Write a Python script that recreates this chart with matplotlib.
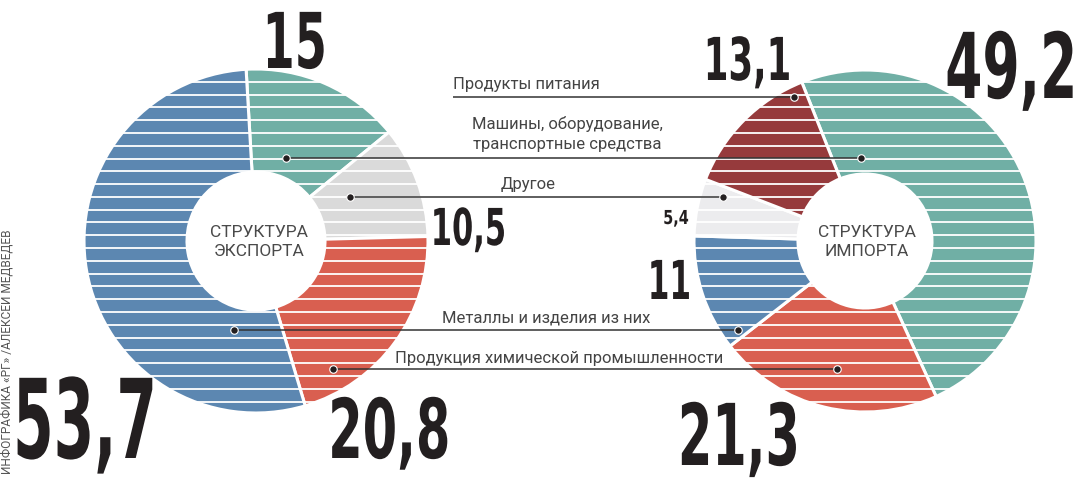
import matplotlib
matplotlib.use("Agg")
import matplotlib.pyplot as plt
from matplotlib import font_manager
from matplotlib.patches import Circle
from matplotlib.patheffects import AbstractPathEffect
from matplotlib.transforms import Affine2D
import numpy as np


# Данные (доли, %)

categorias = ["Продукты питания",
              "Машины, оборудование,\nтранспортные средства",
              "Другое",
              "Металлы и изделия из них",
              "Продукция химической промышленности"]

# экспорт: порядок секторов по часовой стрелке
export_cats = [1, 2, 4, 3]
export_vals = [15, 10.5, 20.8, 53.7]

# импорт: порядок секторов по часовой стрелке
import_cats = [1, 4, 3, 2, 0]
import_vals = [49.2, 21.3, 11, 5.4, 13.1]

colores_export = {1: "#70AFA5", 2: "#DADADA", 4: "#D95F50", 3: "#5C87B1"}
colores_import = {1: "#70AFA5", 4: "#D95F50", 3: "#5C87B1", 2: "#ECECEE", 0: "#963A3C"}

W, H = 1081, 482


def Y(y):
    # координаты считаем сверху вниз, как на картинке
    return H - y


class Estrecho(AbstractPathEffect):
    # сжимает текст по горизонтали (узкий шрифт для больших цифр)
    def __init__(self, sx):
        super().__init__()
        self.sx = sx

    def draw_path(self, renderer, gc, tpath, affine, rgbFace=None):
        ext = tpath.get_extents(affine)
        xm = (ext.x0 + ext.x1) / 2
        aff = affine + Affine2D().translate(-xm, 0).scale(self.sx, 1).translate(xm, 0)
        renderer.draw_path(gc, tpath, aff, rgbFace)


nombres = {f.name for f in font_manager.fontManager.ttflist}
fuente_txt = "Roboto" if "Roboto" in nombres else "DejaVu Sans"
NEGRO = "#231F20"
GRIS = "#444444"

fig = plt.figure(figsize=(W / 100, H / 100), dpi=100)
ax = fig.add_axes([0, 0, 1, 1])

# (центр x, центр y, R, r, угол старта)
pies = [
    (export_vals, export_cats, colores_export, 256, 241, 172, 69, 93.3),
    (import_vals, import_cats, colores_import, 865, 241, 171, 67, 111.7),
]

for vals, cats, cols, cx, cy, R, r, ang in pies:
    ax.pie(vals, colors=[cols[c] for c in cats], startangle=ang, counterclock=False,
           center=(cx, Y(cy)), radius=R,
           wedgeprops=dict(width=R - r, edgecolor="white", linewidth=2.2))
    # белые горизонтальные полосы
    borde = Circle((cx, Y(cy)), R, transform=ax.transData)
    ys = [Y(v) for v in np.arange(81.7, cy + R, 12.8)]
    lineas = ax.hlines(ys, cx - R, cx + R, colors="white", linewidth=1.3, zorder=3)
    lineas.set_clip_path(borde)

# подписи в центре
ax.text(259, Y(242), "СТРУКТУРА\nЭКСПОРТА", ha="center", va="center", fontsize=12.5,
        color="#4a4a4a", family=fuente_txt, linespacing=1.35, zorder=6)
ax.text(867, Y(242), "СТРУКТУРА\nИМПОРТА", ha="center", va="center", fontsize=12.5,
        color="#4a4a4a", family=fuente_txt, linespacing=1.35, zorder=6)

# выноски: (y линии, x начала, x конца, точки)
lineas_cat = [
    (97, 453, 794, [794]),
    (158, 286, 861, [286, 861]),
    (197, 350, 723, [350, 723]),
    (330, 234, 738, [234, 738]),
    (369, 333, 837, [333, 837]),
]
textos_cat = [
    (453, 84, "left"),
    (567, 134, "center"),
    (528, 185, "center"),
    (546, 318, "center"),
    (559, 358, "center"),
]

for (yl, x0, x1, puntos), (tx, ty, ha), nombre in zip(lineas_cat, textos_cat, categorias):
    ax.plot([x0, x1], [Y(yl), Y(yl)], color="#333333", lw=1.1, zorder=4, solid_capstyle="butt")
    ax.plot(puntos, [Y(yl)] * len(puntos), "o", color=NEGRO, ms=5.4, mec="white", mew=0.8, zorder=5)
    ax.text(tx, Y(ty), nombre, ha=ha, va="center", fontsize=12, color=GRIS,
            family=fuente_txt, linespacing=1.35, zorder=6)

# большие числа: (x центра, базовая линия, высота цифр в px, сжатие)
pos_export = [(294, 68, 56, 0.6), (468, 245, 37, 0.6), (389, 458, 60, 0.6), (85, 458, 80, 0.53)]
pos_import = [(1012, 98, 66, 0.59), (739, 465, 62, 0.58), (669, 299, 39, 0.58),
              (676, 224, 14, 0.75), (747, 80, 43, 0.6)]

for vals, posiciones in [(export_vals, pos_export), (import_vals, pos_import)]:
    for v, (x, yb, alto, sx) in zip(vals, posiciones):
        ax.text(x, Y(yb), f"{v:g}".replace(".", ","), ha="center", va="baseline",
                fontsize=alto * 0.99, fontweight="bold", color=NEGRO, family="DejaVu Sans",
                zorder=6, path_effects=[Estrecho(sx)])

# подпись автора
ax.text(8, Y(352), "ИНФОГРАФИКА «РГ» /АЛЕКСЕЙ МЕДВЕДЕВ", rotation=90, ha="center", va="center",
        fontsize=8.6, color="#555555", family=fuente_txt, zorder=6)

ax.set_xlim(0, W)
ax.set_ylim(0, H)
ax.set_aspect("auto")
ax.axis("off")

plt.savefig("out.png", dpi=100)
